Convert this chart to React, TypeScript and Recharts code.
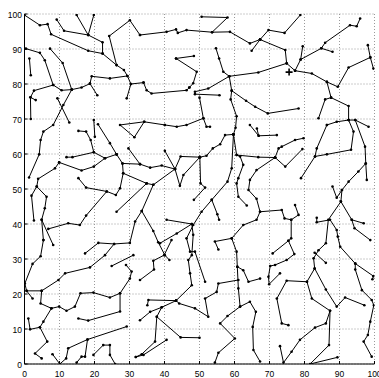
import { CartesianGrid, Scatter, ScatterChart, XAxis, YAxis } from "recharts"

type Pt = [number, number]

// axis ticks
const ticks = [0, 10, 20, 30, 40, 50, 60, 70, 80, 90, 100]

// tree branches (each one a polyline)
const northWest: Pt[][] = [
  [[0, 99.7], [4.4, 96.8], [6.6, 97.1], [7.6, 94.2], [18.2, 89.5], [22.3, 88.7], [26.3, 85.4], [28.4, 84], [29.4, 82.3], [30.4, 80], [34, 80.4]],
  [[9.2, 98.4], [11.3, 95.2], [18.2, 94], [22.3, 91.9], [22.3, 88.7]],
  [[14.9, 99.7], [18.2, 94]],
  [[19.8, 99.7], [18.2, 94]],
  [[33, 94], [30.1, 98.2], [24.2, 93.7], [26.3, 85.4]],
  [[0.4, 90.1], [4.4, 88.9], [5.8, 86.8], [8.2, 79.7], [10.6, 78.2], [13.5, 78.4], [16.3, 79], [18.7, 80.1], [19.2, 82.2], [24.4, 81.6], [29.4, 82.3]],
  [[1.4, 87.3], [1.8, 82.5]],
  [[7.3, 90.1], [10.9, 86], [13.5, 78.4]],
  [[8.2, 79.7], [2.7, 78.1], [1.7, 76.2], [3.2, 75.4]],
  [[1.7, 76.2], [1.8, 70]],
  [[18.7, 80.1], [20.8, 76.8]],
  [[30.4, 80], [29.2, 75.9]],
  [[13.5, 78.4], [11.1, 74], [8.2, 68.3], [5.4, 66.4], [4.6, 64], [4.2, 59.9], [1.3, 53.3]],
  [[9.4, 75.9], [12.8, 69]],
]

const north: Pt[][] = [
  [[33, 94], [40.6, 94.9], [43.3, 95.6], [43.8, 94.6], [46.3, 95.4], [53.6, 94.8], [58.7, 94.9], [64.4, 91.6], [67.3, 92.7]],
  [[50.6, 99.2], [58, 99], [53.6, 94.8]],
  [[67.3, 92.7], [64.9, 89.5]],
  [[43.3, 87.3], [48.4, 88]],
  [[43.3, 87.3], [49.2, 83.5], [48.2, 80.2], [47.1, 79]],
  [[34, 80.4], [34.9, 78.2], [36.3, 77.3], [46.3, 78.2], [47.1, 79]],
  [[54.7, 90.2], [55.6, 87.3], [56.8, 83.5], [58.5, 82.2], [66.8, 83.3], [74.9, 85.9]],
  [[58.5, 82.2], [52.5, 78.7], [48.7, 77.8]],
  [[48.7, 77.1], [55.7, 76.8]],
  [[50, 76.1], [51.1, 70.2], [46.3, 68.3], [43.5, 67.8], [40.1, 68.3]],
  [[51.1, 70.2], [52, 67.8], [53, 67.8]],
  [[58.5, 82.2], [59.2, 78.1], [58.9, 75.6], [60.6, 70.8], [60.3, 67.5], [59.7, 65.6]],
  [[59.2, 78.1], [63.3, 75.2], [65.9, 73.5], [69.5, 71.6], [78.3, 73]],
]

const northEast: Pt[][] = [
  [[67.3, 92.7], [69.7, 95.4], [74.3, 94.6], [78.8, 99.7]],
  [[67.3, 92.7], [74.5, 89.7], [74.9, 85.9], [77.3, 83.8]],
  [[77.3, 83.8], [82.1, 83], [86.4, 80.6], [89.5, 79.2], [92.6, 84.7], [98.8, 87.6], [98.1, 91.1]],
  [[98.8, 87.6], [99.7, 84.4]],
  [[77.3, 83.8], [78.9, 87], [79.5, 90.8]],
  [[78.9, 87], [84.8, 90.2], [88, 89.2]],
  [[84.8, 90.2], [85.9, 91.8], [93, 96.8], [94.9, 96.5], [95.9, 98.7]],
  [[86.4, 80.6], [87.6, 76.1], [92.6, 73.7], [92.6, 69.7]],
  [[87.6, 76.1], [85.9, 75.6], [84, 70.2]],
  [[86.4, 68.3], [89.2, 69.2], [92.6, 69.7], [94.5, 69.7], [98.3, 67.8]],
]

const west: Pt[][] = [
  [[15.4, 66.6], [17.6, 66.4], [18.9, 64], [19.8, 60.5], [23, 58.8], [26.3, 59.9]],
  [[12, 59.1], [13.7, 59.1], [19.8, 60.5]],
  [[19.8, 69.7], [20.1, 64.9]],
  [[21, 68.5], [24.4, 63.1], [26.3, 59.9]],
  [[9.9, 57.6], [16.3, 55.3], [19.8, 56.4], [23, 58.8]],
  [[26.3, 59.9], [28, 57.3], [33, 57.1], [35.9, 56.1], [39.2, 56.7], [43, 55.7], [44.6, 59.3], [50.1, 59.1]],
  [[29.7, 61.6], [33, 57.1]],
  [[40.1, 68.3], [34.2, 69.2], [27.3, 68.3], [31.4, 64.8], [34.2, 69.2]],
  [[28, 57.3], [28.2, 54.5], [34.9, 51.6], [36.8, 51.2], [43, 55.7]],
  [[36.8, 51.2], [33.5, 43.7], [36.8, 38], [38.2, 34.8], [40.1, 31.1], [41.4, 29.7]],
  [[28.2, 54.5], [27.3, 50.2], [26.1, 48.3], [23.5, 49.3], [17.6, 50.4], [15.4, 53.1]],
  [[23.5, 49.3], [17.6, 42.4], [15.8, 39.7], [12.5, 40.2], [6.8, 38.6]],
  [[9.9, 57.6], [8.7, 55.9], [3.9, 52.9], [3.5, 50.7], [2, 48.1], [2.7, 41]],
  [[3.5, 50.7], [6.3, 47.8], [5.8, 44.5], [4.9, 41.2], [8.2, 34]],
  [[4.9, 41.2], [5.4, 35.4]],
  [[26.3, 43.5], [34.9, 51.6]],
]

const center: Pt[][] = [
  [[59.7, 65.6], [57.3, 65.4], [55.9, 62.8], [53.8, 61.6], [52, 59.5], [50.1, 59.1]],
  [[40.1, 60.9], [43, 55.7]],
  [[43, 55.7], [44.4, 50.9], [45.4, 54], [50.1, 59.1]],
  [[50.1, 59.1], [50.3, 51.6], [51.6, 50.4], [48.4, 46.9]],
  [[59.7, 65.6], [59.2, 55.9], [58, 52.1], [53.5, 46.9], [55.1, 42.8], [55.6, 41.2]],
  [[53.5, 46.9], [50.6, 43.5], [48.2, 39.7], [46.3, 35.9], [47.3, 32.1], [48.7, 32.1], [51.6, 23.5]],
  [[40.6, 41.2], [47.8, 40], [48.2, 36.9], [47.8, 31.1], [46.8, 29.7], [47.3, 25.9], [47.8, 22.5], [43.3, 18.1], [35.4, 18.3], [35.1, 16.8]],
  [[47.8, 40], [43.5, 37.3], [38.7, 34.5]],
  [[59.7, 65.6], [60.6, 59.7], [61.6, 59.3], [62.5, 56.9], [61.1, 53.1], [60.6, 51.6], [61.1, 47.8], [63.5, 45.3]],
  [[60.6, 59.7], [66.8, 59.1], [71.6, 59]],
  [[71.6, 59], [66.3, 55.4], [64.4, 52.6], [64, 49.7], [66.3, 47.2], [67.3, 43.5], [66.3, 41.2], [62.5, 39.7], [59.2, 35.9], [54.4, 35], [55.4, 32.7]],
  [[64.4, 68.3], [66.9, 65.2], [72.1, 65.4]],
  [[66.9, 65.2], [66.4, 67.3]],
]

const east: Pt[][] = [
  [[79.7, 64.5], [77.3, 64], [73.5, 62.1], [72.6, 61.6], [71.6, 59]],
  [[71.6, 59], [74.5, 56.4], [79.4, 61.4]],
  [[86.4, 68.3], [83.5, 61.6], [83, 59.3], [79, 53.1]],
  [[83, 59.3], [86.4, 59.9], [93.3, 61.2], [94, 66.4], [92.6, 69.7]],
  [[94.5, 69.7], [97.3, 62.1], [97.5, 57.3], [97.8, 52.6]],
  [[97.5, 57.3], [95.4, 55], [92.6, 52.1], [90.7, 49.7], [89.2, 47.5], [88, 50.7]],
  [[90.7, 49.7], [90.4, 46.4], [86.8, 41.2], [86.1, 34.5], [84, 32.5], [82.6, 30.2], [82.9, 27.3], [80.7, 23.5], [74.9, 23.8], [72.1, 18.7], [73.5, 11.6], [75.4, 11.1]],
  [[90.4, 46.4], [93.5, 41.2], [96.9, 40.2]],
  [[93.5, 41.2], [94.3, 38.8], [98.8, 35.4]],
  [[67.3, 43.5], [73.5, 44], [74.3, 41.6], [76.2, 41.2], [76.2, 35.9], [75.4, 35.2]],
  [[76.2, 41.2], [78.3, 42.6], [77.3, 45.4]],
  [[83.5, 41.8], [83.5, 40.5], [87.3, 41.2], [89.2, 38.3], [89.5, 36.4], [90.2, 33.5], [94.5, 28.7], [94.5, 27], [96.4, 21.1], [99.2, 18.3], [99.8, 16.8], [98.8, 12.1], [98.1, 8.3], [96.9, 6.4], [99.2, 2.1]],
  [[94.5, 28.7], [99.7, 25.1], [99.4, 24.2]],
]

const southWest: Pt[][] = [
  [[17.3, 31.6], [21.1, 34.6], [25.6, 34.3], [30.1, 34.6], [31.6, 40.7], [33.5, 43.7]],
  [[25.6, 34.3], [23, 31.1], [18.7, 27.6], [11.6, 25.9], [9.7, 24], [4.9, 20.9], [0.6, 20.9], [0.1, 23], [2.3, 28.6], [4.6, 30.8], [5.4, 35.4]],
  [[0.6, 20.9], [2.3, 18.7]],
  [[4.9, 20.9], [4.6, 17.3], [7.7, 15.9], [9.9, 16.4], [12, 15.2], [14.4, 16.4], [16, 20.2], [19.7, 20.4], [24.4, 19], [27.3, 20.2], [30.1, 24.4], [30.6, 26.4], [29, 28.3]],
  [[24.9, 28], [31.1, 31.1]],
  [[7.7, 15.9], [5.4, 12.1], [4.4, 10.5], [1.6, 9.9], [1.1, 13]],
  [[4.4, 10.5], [6.5, 6.4], [3, 3], [4.9, 1.6]],
  [[15.4, 13], [18.2, 12.4], [27.3, 15], [27.3, 20.2]],
  [[29.2, 10.7], [18, 7], [12.5, 4.5], [11.9, 1.6], [10.1, 0], [8, 2.8]],
  [[18, 7], [17.3, 2.1], [16.3, 2.1], [14.9, 0.4]],
  [[19.7, 2.6], [22.5, 5.4], [24.4, 5.4], [24.4, 2.6], [25.9, 0]],
]

const south: Pt[][] = [
  [[42, 35.4], [39.9, 31.1], [36.8, 29.5], [37, 27], [33, 24]],
  [[43.3, 18.1], [39.2, 16.2], [37.8, 13.5], [37.3, 6.4], [33.5, 2.8], [31.8, 2]],
  [[37.8, 13.5], [44.6, 7.6], [50, 7.5]],
  [[43.3, 18.1], [44.2, 17.3], [48.7, 15.9], [52.5, 13.5], [51.6, 18.7], [54.9, 20.6], [55.4, 23], [61.1, 24]],
  [[39.2, 16.2], [35.9, 14.9], [33, 12.5]],
  [[40.6, 6.9], [34, 2.6], [31.8, 2]],
  [[59.2, 35.9], [60.6, 32.1], [60.8, 27.8], [62.5, 26.8], [64, 23.5], [67.3, 24.4]],
  [[60.8, 27.8], [61.1, 21.6], [61.6, 16.4], [64.4, 17.8], [66.1, 14.9], [65.2, 10.6], [65.4, 4], [67.3, 0.7]],
  [[61.6, 16.4], [58, 13.7], [55.9, 11.6], [60.1, 7.3], [55.4, 3.2], [54.4, 0.4]],
]

const southEast: Pt[][] = [
  [[70.9, 31.6], [75.4, 35.2], [77.1, 31.4], [74.9, 29.7], [71.6, 28.3], [70.2, 28], [69.7, 24.9], [69.9, 22.8], [73, 25.9]],
  [[82.9, 31.8], [86.1, 28.9]],
  [[82.9, 27.3], [86.1, 21.3], [89.2, 16.4], [91.6, 19], [97.1, 16.8]],
  [[80.7, 23.5], [82.1, 18.7], [87.3, 15.2], [86.1, 11.6], [83, 10.4], [78.7, 6.9], [76.3, 3.5], [74, 0.4], [73, 5.1]],
  [[87.3, 15.2], [87, 5.4], [81.6, 0], [89.4, 1.9]],
]

// the single "+" marker
const plusMarks: Pt[] = [[75.6, 83.4]]

const branches = [...northWest, ...north, ...northEast, ...west, ...center, ...east, ...southWest, ...south, ...southEast]

const font = '"Liberation Sans", Arial, Helvetica, sans-serif'

const BottomTick = ({ x, y, payload }: any) => (
  <g>
    <line x1={x} x2={x} y1={y} y2={y - 3} stroke="#000" />
    <text x={x} y={y + 12.5} textAnchor="middle" fontSize={8.5} fontFamily={font} fill="#000">
      {payload.value}
    </text>
  </g>
)

const LeftTick = ({ x, y, payload }: any) => (
  <g>
    <line x1={x} x2={x + 3} y1={y} y2={y} stroke="#000" />
    <text x={x - 2.5} y={y + 4} textAnchor="end" fontSize={8.5} fontFamily={font} fill="#000">
      {payload.value}
    </text>
  </g>
)

const TopTick = ({ x, y }: any) => <line x1={x} x2={x} y1={y} y2={y + 3} stroke="#000" />
const RightTick = ({ x, y }: any) => <line x1={x} x2={x - 3} y1={y} y2={y} stroke="#000" />

const node = (p: any) => <circle cx={p.cx} cy={p.cy} r={1.3} fill="#000" />
const plus = (p: any) => (
  <g stroke="#000" strokeWidth={1.6}>
    <line x1={p.cx - 3.5} x2={p.cx + 3.5} y1={p.cy} y2={p.cy} />
    <line x1={p.cx} x2={p.cx} y1={p.cy - 3.5} y2={p.cy + 3.5} />
  </g>
)

export default function App() {
  return (
    <div style={{ position: "absolute", left: 0, top: 0, background: "#fff" }}>
      <ScatterChart width={379} height={378} margin={{ top: 14, right: 4.5, bottom: 0, left: 0 }}>
        <CartesianGrid stroke="#999" strokeDasharray="1 2" />
        <XAxis
          dataKey="x"
          type="number"
          domain={[0, 100]}
          ticks={ticks}
          interval={0}
          height={14}
          tickSize={0}
          tickMargin={0}
          tickLine={false}
          tick={BottomTick}
          axisLine={{ stroke: "#000" }}
          allowDataOverflow
        />
        <XAxis
          xAxisId="top"
          orientation="top"
          type="number"
          domain={[0, 100]}
          ticks={ticks}
          interval={0}
          height={0}
          tickSize={0}
          tickMargin={0}
          tickLine={false}
          tick={TopTick}
          axisLine={{ stroke: "#000" }}
          allowDataOverflow
        />
        <YAxis
          dataKey="y"
          type="number"
          domain={[0, 100]}
          ticks={ticks}
          interval={0}
          width={24.5}
          tickSize={0}
          tickMargin={0}
          tickLine={false}
          tick={LeftTick}
          axisLine={{ stroke: "#000" }}
          allowDataOverflow
        />
        <YAxis
          yAxisId="right"
          orientation="right"
          type="number"
          domain={[0, 100]}
          ticks={ticks}
          interval={0}
          width={0}
          tickSize={0}
          tickMargin={0}
          tickLine={false}
          tick={RightTick}
          axisLine={{ stroke: "#000" }}
          allowDataOverflow
        />
        {branches.map((b, i) => (
          <Scatter
            key={i}
            data={b.map(([x, y]) => ({ x, y }))}
            line={{ stroke: "#000", strokeWidth: 1 }}
            lineType="joint"
            shape={node}
            isAnimationActive={false}
          />
        ))}
        <Scatter
          data={plusMarks.map(([x, y]) => ({ x, y }))}
          shape={plus}
          isAnimationActive={false}
        />
      </ScatterChart>
    </div>
  )
}
